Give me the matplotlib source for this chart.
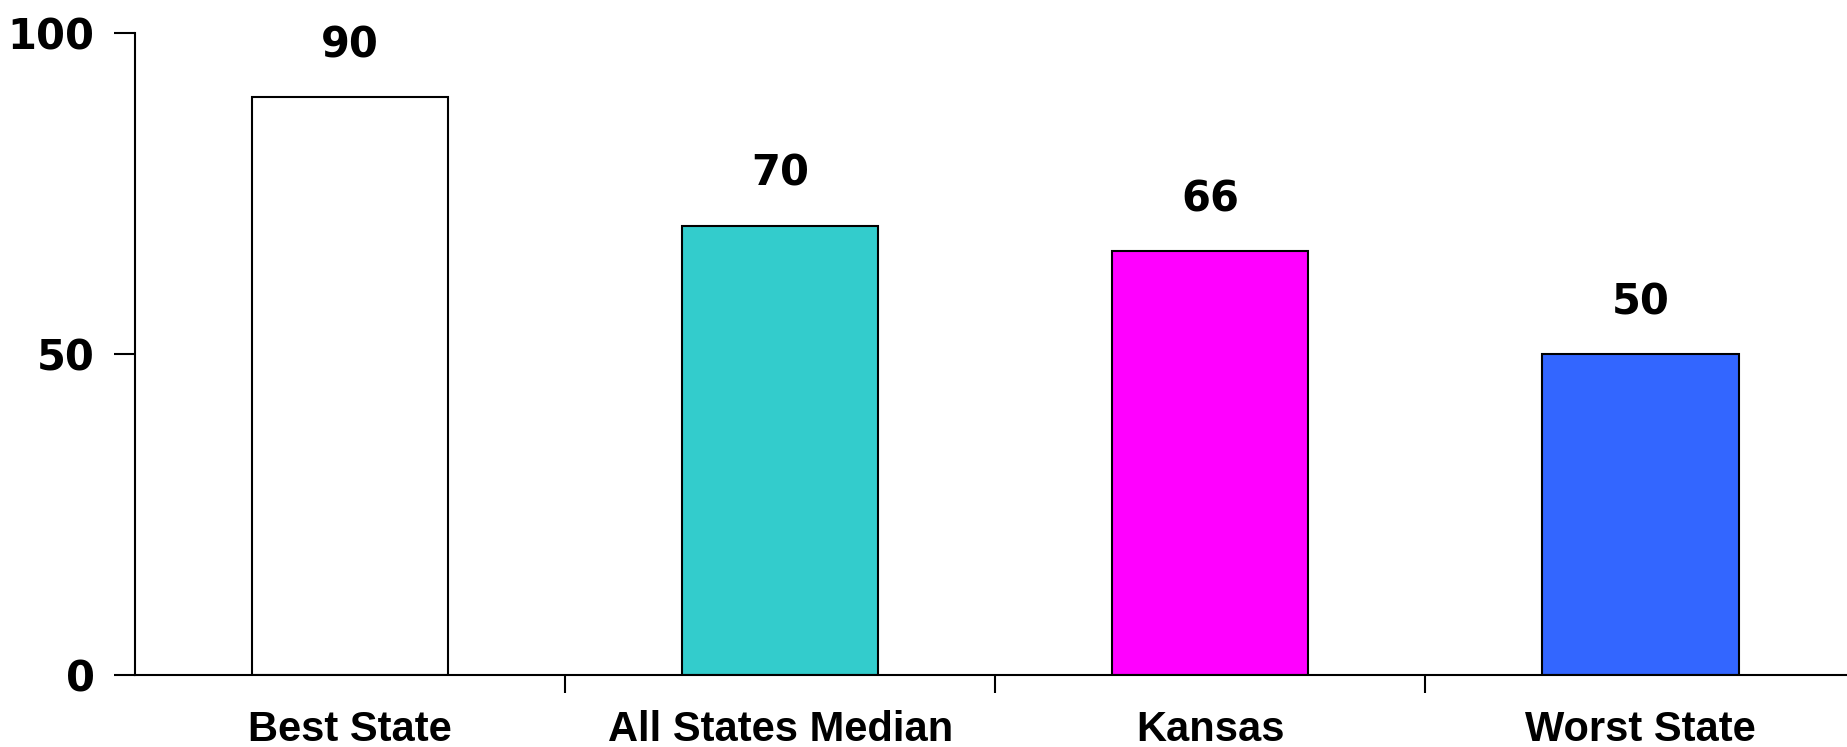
import numpy as np
import matplotlib
matplotlib.use('Agg')
import matplotlib.pyplot as plt

# DATA
categories = ['Best State', 'All States Median', 'Kansas', 'Worst State']
values = [90, 70, 66, 50]
colors = ['#FFFFFF', '#33CCCC', '#FF00FF', '#3366FF']

plt.rcParams['font.family'] = ['Liberation Sans', 'DejaVu Sans']
plt.rcParams['font.weight'] = 'bold'

fig = plt.figure(figsize=(18.47, 7.47), dpi=100)
ax = fig.add_axes([0.0731, 0.0964, 0.9269, 0.8594])

x = np.arange(len(categories))
ax.bar(x, values, width=0.456, color=colors, edgecolor='black', linewidth=1.5, zorder=2)

for xi, v in zip(x, values):
    ax.text(xi, v + 6.2, str(v), ha='center', va='baseline', fontsize=30,
            fontweight='bold', family='DejaVu Sans')

ax.set_xlim(-0.5, 3.48)
ax.set_ylim(0, 100)
ax.set_yticks([0, 50, 100])
ax.set_yticklabels(['0', '50', '100'], fontsize=30, fontweight='bold', family='DejaVu Sans')

# category labels between boundary ticks
ax.set_xticks([0.5, 1.5, 2.5])
ax.set_xticklabels([])
ax.set_xticks(x, minor=True)
ax.set_xticklabels(categories, minor=True, fontsize=30, fontweight='bold')
ax.tick_params(axis='x', which='minor', length=0, pad=25)
ax.tick_params(axis='x', which='major', direction='out', length=13, width=1.5)
ax.tick_params(axis='y', direction='out', length=15, width=1.5, pad=14)

for s in ['top', 'right']:
    ax.spines[s].set_visible(False)
for s in ['left', 'bottom']:
    ax.spines[s].set_linewidth(1.5)

fig.savefig('out.png', dpi=100)
